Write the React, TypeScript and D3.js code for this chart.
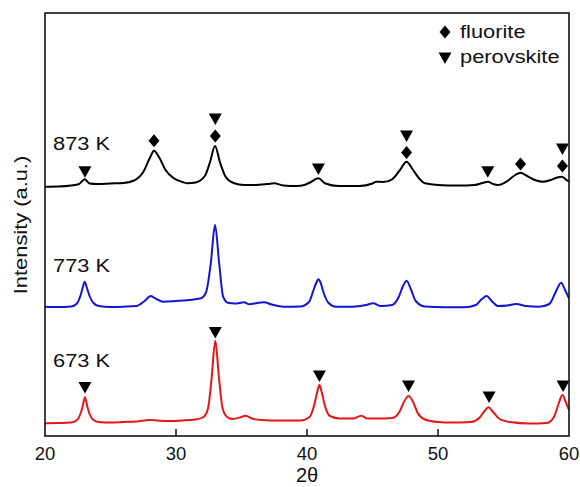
import React from 'react';
import * as d3 from 'd3';

// XRD patterns: [2θ, intensity (a.u., above each pattern's own baseline)]
const pattern673: [number, number][] = [
  [20.0, 12.7], [21.0, 13], [22.0, 13.5], [22.4, 15.5], [22.7, 22], [22.88, 30], [23.05, 38.7], [23.22, 30],
  [23.4, 22], [23.7, 16], [24.1, 14], [25.0, 13.5], [26.0, 14], [27.0, 14.5], [28.0, 16], [28.6, 15.5],
  [29.5, 15], [30.5, 15.5], [31.5, 16.5], [32.1, 19], [32.45, 28], [32.72, 58], [33.0, 95.3], [33.28, 58],
  [33.55, 28], [33.9, 19], [34.3, 17], [35.0, 19], [35.3, 20.3], [35.8, 17.5], [36.5, 16], [38.0, 15.5],
  [39.5, 15.5], [40.2, 19], [40.55, 31], [40.78, 44], [40.95, 51], [41.12, 44], [41.35, 31], [41.75, 20],
  [42.5, 17.5], [43.5, 17.5], [44.15, 20.3], [44.6, 17.5], [45.5, 17.5], [46.5, 18], [47.05, 24], [47.4, 34],
  [47.75, 40], [48.1, 34], [48.45, 23], [49.0, 16.5], [50.0, 14], [51.0, 13.5], [52.5, 14], [53.15, 18],
  [53.55, 25], [53.85, 28.7], [54.2, 24], [54.7, 17], [55.5, 14], [57.0, 12.5], [58.3, 13], [58.85, 19],
  [59.2, 32], [59.5, 41], [59.78, 33], [60.0, 26],
];

const pattern773: [number, number][] = [
  [20.0, 9.3], [21.0, 9], [22.0, 9.5], [22.4, 12], [22.7, 20], [22.87, 28], [23.03, 34.3], [23.2, 28],
  [23.4, 20], [23.7, 13], [24.1, 10], [25.0, 9], [26.0, 9.3], [27.0, 10], [27.6, 15], [28.07, 20],
  [28.5, 17], [29.0, 14.3], [30.0, 15], [31.0, 16], [31.9, 17.7], [32.3, 24], [32.65, 52], [32.98, 91],
  [33.3, 52], [33.6, 19.3], [33.95, 13.3], [34.5, 12.5], [35.2, 13.7], [35.6, 11.7], [36.2, 13], [36.7, 13.7],
  [37.3, 11.5], [38.2, 9.3], [39.5, 9.5], [40.15, 14], [40.5, 26], [40.7, 33], [40.87, 36.7], [41.05, 33],
  [41.25, 24], [41.65, 13], [42.2, 9.3], [43.5, 9.3], [44.5, 11], [45.06, 12.7], [45.6, 10], [46.5, 11],
  [47.0, 19], [47.3, 29], [47.6, 35.3], [47.95, 26], [48.3, 15], [49.0, 9.5], [50.5, 8.7], [52.0, 8.7],
  [52.9, 11], [53.35, 17], [53.72, 20], [54.1, 15], [54.6, 10], [55.3, 10.5], [56.0, 12], [56.7, 10],
  [57.7, 9.3], [58.5, 12], [58.95, 23], [59.4, 33.3], [59.7, 26], [60.0, 17.7],
];

const pattern873: [number, number][] = [
  [20.0, 9.3], [21.0, 9.5], [22.0, 10.5], [22.6, 12], [23.03, 16.7], [23.4, 12.5], [24.0, 12], [25.0, 12.5],
  [26.0, 13], [26.8, 15.5], [27.5, 24], [28.0, 38], [28.32, 45.3], [28.7, 39], [29.2, 26], [29.8, 18],
  [30.5, 14], [30.9, 12.7], [31.5, 13.5], [32.2, 20], [32.6, 34], [32.98, 50], [33.35, 34], [33.8, 19],
  [34.4, 13], [35.2, 11], [36.0, 11], [37.0, 12], [37.5, 12.7], [38.2, 10.5], [39.2, 10], [39.8, 11],
  [40.3, 14], [40.87, 17.7], [41.4, 12.5], [42.4, 10], [44.0, 10], [45.0, 12.5], [45.3, 14.3], [45.8, 14],
  [46.5, 16.7], [47.1, 26], [47.6, 34.3], [48.1, 26], [48.6, 17], [49.0, 12.7], [50.0, 11], [51.5, 10.5],
  [52.8, 11], [53.4, 13], [53.8, 14.3], [54.2, 12], [54.6, 11], [55.3, 15], [55.9, 21], [56.3, 23.3],
  [56.8, 20], [57.5, 15.5], [58.0, 14.3], [58.6, 16], [59.1, 18.5], [59.45, 19.3], [59.9, 15.3], [60.0, 15],
];

const sampleLabels = ['673 K', '773 K', '873 K'];
const sampleOffsets = [0, 120, 240];
const sampleColors = ['#e61616', '#1414d2', '#000000'];
const patterns = [pattern673, pattern773, pattern873];

// phase markers: [sample index, 2θ, level above that pattern's baseline, phase]
type Phase = 'fluorite' | 'perovskite';
const markers: [number, number, number, Phase][] = [
  [0, 23.05, 48.5, 'perovskite'], [0, 33.0, 103.5, 'perovskite'], [0, 40.95, 60, 'perovskite'],
  [0, 47.75, 50, 'perovskite'], [0, 53.9, 39, 'perovskite'], [0, 59.55, 50, 'perovskite'],
  [2, 23.05, 24.3, 'perovskite'], [2, 28.32, 55.3, 'fluorite'], [2, 33.0, 60, 'fluorite'],
  [2, 33.0, 77, 'perovskite'], [2, 40.87, 27, 'perovskite'], [2, 47.6, 43.5, 'fluorite'],
  [2, 47.6, 60, 'perovskite'], [2, 53.8, 24.3, 'perovskite'], [2, 56.3, 32, 'fluorite'],
  [2, 59.5, 30, 'fluorite'], [2, 59.5, 47, 'perovskite'],
];

const legendItems: Phase[] = ['fluorite', 'perovskite'];
const xTicks = [20, 30, 40, 50, 60];

const W = 580;
const H = 487;
const margin = { top: 13, right: 11, bottom: 51, left: 45 };
const font = '"Liberation Sans", Arial, sans-serif';

const Marker = ({ x, y, phase }: { x: number; y: number; phase: Phase }) =>
  phase === 'fluorite' ? (
    <path d={`M${x},${y - 6.5}L${x + 5.5},${y}L${x},${y + 6.5}L${x - 5.5},${y}Z`} fill="#000" />
  ) : (
    <path d={`M${x - 6.5},${y - 5.5}L${x + 6.5},${y - 5.5}L${x},${y + 6}Z`} fill="#000" />
  );

const App = () => {
  const x = d3.scaleLinear().domain([20, 60]).range([margin.left, W - margin.right]);
  const y = d3.scaleLinear().domain([0, 423]).range([H - margin.bottom, margin.top]);

  const line = (offset: number) =>
    d3
      .line<[number, number]>()
      .x((d) => x(d[0]))
      .y((d) => y(d[1] + offset))
      .curve(d3.curveMonotoneX);

  const bottom = H - margin.bottom;
  const labelBaselines = [367, 271.5, 150];

  return (
    <svg width={W} height={H} style={{ position: 'absolute', left: 0, top: 0, background: '#fff' }}>
      <defs>
        <clipPath id="plot">
          <rect x={margin.left} y={margin.top} width={W - margin.left - margin.right} height={bottom - margin.top} />
        </clipPath>
      </defs>

      {/* patterns */}
      <g clipPath="url(#plot)">
        {patterns.map((p, i) => (
          <path key={i} d={line(sampleOffsets[i])(p) || ''} fill="none" stroke={sampleColors[i]} strokeWidth={2} strokeLinejoin="round" />
        ))}
      </g>

      {/* phase markers */}
      {markers.map(([s, t, lvl, phase], i) => (
        <Marker key={i} x={x(t)} y={y(lvl + sampleOffsets[s])} phase={phase} />
      ))}

      {/* sample labels */}
      {sampleLabels.map((l, i) => (
        <text key={l} transform={`translate(53,${labelBaselines[i]}) scale(1.15,1)`} fontFamily={font} fontSize={19} fill="#111">
          {l}
        </text>
      ))}

      {/* legend */}
      {legendItems.map((p, i) => (
        <g key={p}>
          <Marker x={445} y={32 + i * 26} phase={p} />
          <text transform={`translate(460,${38 + i * 25}) scale(1.15,1)`} fontFamily={font} fontSize={19} fill="#111">
            {p}
          </text>
        </g>
      ))}

      {/* frame */}
      <rect x={margin.left} y={margin.top} width={W - margin.left - margin.right} height={bottom - margin.top} fill="none" stroke="#111" strokeWidth={1.6} />

      {/* x ticks */}
      {xTicks.map((t) => (
        <g key={t}>
          {t > 20 && t < 60 && <line x1={x(t)} x2={x(t)} y1={bottom} y2={bottom - 7} stroke="#111" strokeWidth={1.5} />}
          <text x={x(t)} y={460} textAnchor="middle" fontFamily={font} fontSize={18.5} fill="#111">
            {t}
          </text>
        </g>
      ))}

      <text x={x(40)} y={482} textAnchor="middle" fontFamily={font} fontSize={20} fill="#111">
        2θ
      </text>
      <text transform="translate(27,225) rotate(-90) scale(1.15,1)" textAnchor="middle" fontFamily={font} fontSize={19} fill="#111">
        Intensity (a.u.)
      </text>
    </svg>
  );
};

export default App;
